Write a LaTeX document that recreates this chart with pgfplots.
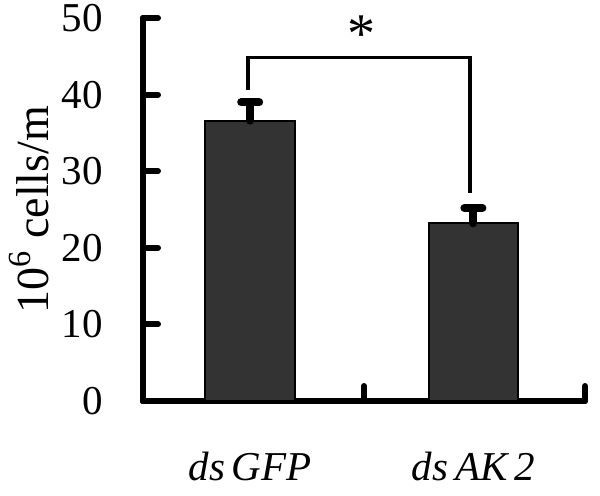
\documentclass[border=0pt]{standalone}
\usepackage{fontspec}
\setmainfont{Liberation Serif}
\usepackage{pgfplots}
\pgfplotsset{compat=1.18}

\definecolor{barfill}{HTML}{333333}

\begin{document}
\begin{tikzpicture}
% frame so the page keeps the 600x495 proportions (1px = 0.5pt)
\path[use as bounding box] (-71.5pt,-47pt) rectangle (228.5pt,200.5pt);
\begin{axis}[
  anchor=origin, at={(0,0)},
  scale only axis, width=221pt, height=191.5pt,
  xmin=0, xmax=2, ymin=0, ymax=50,
  axis lines*=left,
  axis line style={line width=3pt, line cap=round},
  tick align=inside,
  major tick length=7.5pt,
  tick style={line width=3pt, line cap=round, black},
  xtick={0,1,2}, xticklabels={},
  ytick={0,10,20,30,40,50},
  /pgf/number format/assume math mode=true,
  tick label style={font=\fontsize{20.5}{24}\selectfont},
  yticklabel style={anchor=east, inner sep=0pt, xshift=-20pt},
  extra x ticks={0.485,1.495},
  extra x tick labels={\textit{ds\,GFP}, \textit{ds\,AK\,2}},
  extra x tick style={major tick length=0pt, tick style={draw=none},
    xticklabel style={anchor=base, inner sep=0pt, yshift=-39.5pt}},
  ylabel={10\textsuperscript{6} cells/m},
  every axis y label/.style={at={(axis description cs:-0.258,0.5)},
    rotate=90, anchor=center, font=\fontsize{23}{26}\selectfont},
  clip=false,
]
\addplot[ybar, bar width=0.405, fill=barfill, draw=black, line width=1pt,
  error bars/.cd, y dir=plus, y explicit,
  error bar style={line width=4pt, line cap=round, black},
  error mark options={rotate=90, line width=4pt, mark size=4.5pt, line cap=round, black}]
  coordinates {(0.485,36.6) +- (0,2.4) (1.495,23.2) +- (0,2.0)};
% significance bracket
\addplot[black, line width=1.6pt, mark=none]
  coordinates {(0.475,40.6) (0.475,44.8) (1.48,44.8) (1.48,27.2)};
\node[font=\fontsize{28}{30}\selectfont, anchor=center] at (axis cs:0.99,47.9) {*};
\end{axis}
\end{tikzpicture}
\end{document}
